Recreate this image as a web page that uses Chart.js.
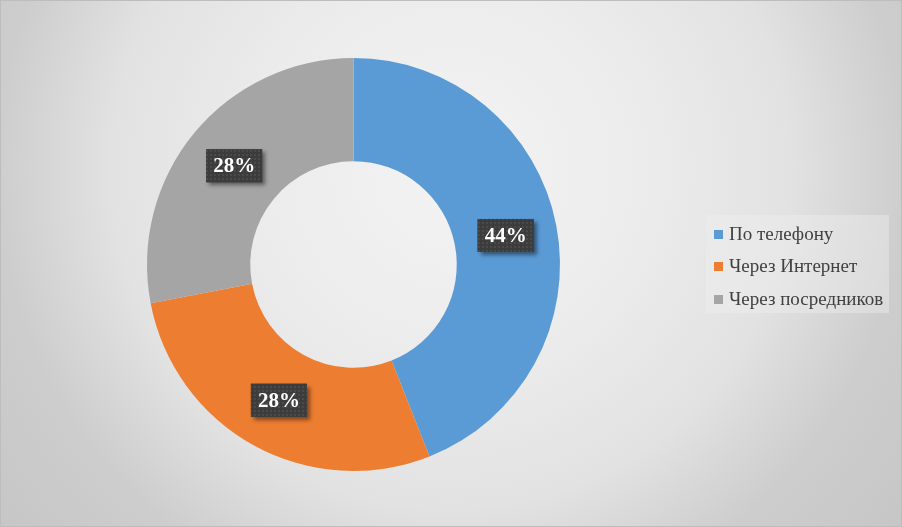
<!DOCTYPE html>
<html>
<head>
<meta charset="utf-8">
<script src="https://cdn.jsdelivr.net/npm/chart.js@4"></script>
<style>
  html, body { margin: 0; padding: 0; }
  #wrap {
    position: relative; width: 902px; height: 527px; box-sizing: border-box;
    border: 1px solid #bdbdbd;
    background: radial-gradient(circle at 50% 32%, #f3f3f3 0px, #ececec 190px, #e2e2e2 340px, #cdcdcd 455px, #c6c6c6 580px);
    overflow: hidden;
  }
  #c { position: absolute; left: 0; top: 0; }
  #legend {
    position: absolute; left: 705px; top: 214px; width: 183px; height: 98px;
    background: rgba(240,240,240,0.4);
    box-sizing: border-box;
    font-family: "Liberation Serif", "Times New Roman", serif; font-size: 19px; color: #404040;
  }
  .li { position: absolute; left: 8px; height: 20px; line-height: 20px; white-space: nowrap; }
  .mk { position: absolute; left: 0; top: 6px; width: 9px; height: 9px; }
  .tx { position: absolute; left: 15px; top: 0; }
</style>
</head>
<body>
<div id="wrap">
  <canvas id="c" width="902" height="527"></canvas>
  <div id="legend"></div>
</div>
<script>
const categories = ["По телефону", "Через Интернет", "Через посредников"];
const shares = [44, 28, 28];
const percentLabels = ["44%", "28%", "28%"];
const sliceColors = ["#5B9BD5", "#ED7D31", "#A5A5A5"];

function makePattern(ctx) {
  const p = document.createElement('canvas');
  p.width = 4; p.height = 4;
  const g = p.getContext('2d');
  g.fillStyle = '#3c3c3c'; g.fillRect(0, 0, 4, 4);
  g.fillStyle = '#4a4a4a'; g.fillRect(1, 1, 2, 2);
  return ctx.createPattern(p, 'repeat');
}

const labelPlugin = {
  id: 'boxLabels',
  afterDatasetsDraw(chart) {
    const ctx = chart.ctx;
    const meta = chart.getDatasetMeta(0);
    const pat = makePattern(ctx);
    ctx.save();
    ctx.font = 'bold 21px "Liberation Serif", "Times New Roman", serif';
    meta.data.forEach((arc, i) => {
      const pos = arc.tooltipPosition();
      const txt = percentLabels[i];
      const tw = ctx.measureText(txt).width;
      const w = tw + 14, h = 33;
      const x = pos.x - w / 2, y = pos.y - h / 2;
      ctx.save();
      ctx.shadowColor = 'rgba(0,0,0,0.45)';
      ctx.shadowBlur = 4;
      ctx.shadowOffsetX = 3;
      ctx.shadowOffsetY = 3;
      ctx.fillStyle = '#3c3c3c';
      ctx.fillRect(x, y, w, h);
      ctx.restore();
      ctx.fillStyle = pat;
      ctx.fillRect(x, y, w, h);
      ctx.fillStyle = '#ffffff';
      ctx.textAlign = 'center';
      ctx.textBaseline = 'middle';
      ctx.fillText(txt, pos.x, pos.y + 1);
    });
    ctx.restore();
  }
};

const chart = new Chart(document.getElementById('c'), {
  type: 'doughnut',
  data: {
    labels: categories,
    datasets: [{
      data: shares,
      backgroundColor: sliceColors,
      borderWidth: 0,
      hoverOffset: 0
    }]
  },
  options: {
    responsive: false,
    animation: false,
    cutout: '50%',
    layout: { padding: { left: 146, right: 343, top: 57, bottom: 57 } },
    plugins: { legend: { display: false }, tooltip: { enabled: false } }
  },
  plugins: [labelPlugin]
});

const leg = document.getElementById('legend');
const rowTops = [9, 41, 74];
chart.data.labels.forEach((lab, i) => {
  const row = document.createElement('div');
  row.className = 'li';
  row.style.top = rowTops[i] + 'px';
  const mk = document.createElement('div');
  mk.className = 'mk';
  mk.style.background = chart.data.datasets[0].backgroundColor[i];
  const tx = document.createElement('div');
  tx.className = 'tx';
  tx.textContent = lab;
  row.appendChild(mk); row.appendChild(tx);
  leg.appendChild(row);
});
</script>
</body>
</html>
